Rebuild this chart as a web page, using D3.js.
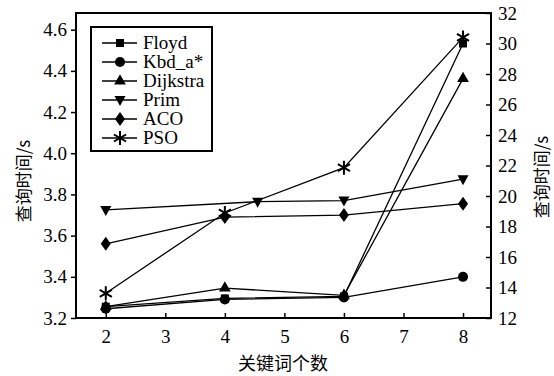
<!DOCTYPE html>
<html lang="zh">
<head>
<meta charset="utf-8">
<title>查询时间</title>
<script src="https://cdn.jsdelivr.net/npm/d3@7"></script>
<style>
  body { margin: 0; background: #fff; }
</style>
</head>
<body>
<svg id="chart" width="554" height="376"></svg>
<script>
// data: x = keyword count; last point of every series is read on the right axis
var xs = [2, 4, 6, 8];
var primXs = [2, 4.55, 6, 8];
var names = ["Floyd", "Kbd_a*", "Dijkstra", "Prim", "ACO", "PSO"];
var floyd    = [3.255, 3.295, 3.305, 30.0];
var kbd      = [3.245, 3.29, 3.30, 14.7];
var dijkstra = [3.255, 3.345, 3.31, 27.7];
var prim     = [3.725, 3.765, 3.77, 21.1];
var aco      = [3.56, 3.69, 3.70, 19.5];
var pso      = [3.32, 3.71, 3.93, 30.4];
var xTicks = [2, 3, 4, 5, 6, 7, 8];
var leftTicks = [3.2, 3.4, 3.6, 3.8, 4.0, 4.2, 4.4, 4.6];
var rightTicks = [12, 14, 16, 18, 20, 22, 24, 26, 28, 30, 32];

var SERIF = "Liberation Serif";
var CJK = "Noto Sans CJK SC";

var svg = d3.select("#chart");
var L = 76, R = 491, T = 13, B = 318;

var x = d3.scaleLinear().domain([1.5, 8.47]).range([L, R]);
var yL = d3.scaleLinear().domain([3.2, 4.681]).range([B, T]);
var yR = d3.scaleLinear().domain([12, 32]).range([B, T]);

// axes
var gx = svg.append("g").attr("transform", "translate(0," + B + ")")
  .call(d3.axisBottom(x).tickValues(xTicks).tickFormat(d3.format("d")).tickSizeInner(-5).tickSizeOuter(0).tickPadding(12));
var gl = svg.append("g").attr("transform", "translate(" + L + ",0)")
  .call(d3.axisLeft(yL).tickValues(leftTicks).tickFormat(d3.format(".1f")).tickSizeInner(5).tickSizeOuter(0).tickPadding(4));
var gr = svg.append("g").attr("transform", "translate(" + R + ",0)")
  .call(d3.axisRight(yR).tickValues(rightTicks).tickSizeInner(-5).tickSizeOuter(0).tickPadding(7));
[gx, gl, gr].forEach(function(g) {
  g.attr("font-family", null).attr("font-size", null);
  g.select(".domain").remove();
  g.selectAll("line").attr("stroke", "#000").attr("stroke-width", 1.5);
  g.selectAll("text").attr("fill", "#000")
    .style("font-family", SERIF).style("font-size", "19px");
});

svg.append("rect").attr("x", L).attr("y", T).attr("width", R - L).attr("height", B - T)
  .attr("fill", "none").attr("stroke", "#000").attr("stroke-width", 2);

// axis titles
svg.append("text").attr("transform", "translate(30,181) rotate(-90)")
  .attr("text-anchor", "middle").style("font-family", CJK).style("font-size", "17px").text("查询时间/s");
svg.append("text").attr("transform", "translate(548,177) rotate(-90)")
  .attr("text-anchor", "middle").style("font-family", CJK).style("font-size", "17px").text("查询时间/s");
svg.append("text").attr("x", 283).attr("y", 370)
  .attr("text-anchor", "middle").style("font-family", CJK).style("font-size", "18px").text("关键词个数");

// markers
function star(s) {
  var p = "";
  [90, 30, -30].forEach(function(a) {
    var r = a * Math.PI / 180, dx = Math.cos(r) * s, dy = Math.sin(r) * s;
    p += "M" + (-dx) + "," + (-dy) + "L" + dx + "," + dy;
  });
  return p;
}
var markers = [
  d3.symbol(d3.symbolSquare, 64)(),
  d3.symbol(d3.symbolCircle, 80)(),
  d3.symbol(d3.symbolTriangle, 60)(),
  "M-5.5,-4L5.5,-4L0,6Z",
  "M0,-7L5,0L0,7L-5,0Z",
  star(7)
];

var series = [floyd, kbd, dijkstra, prim, aco, pso];
series.forEach(function(vals, s) {
  var xv = s === 3 ? primXs : xs;
  var pts = vals.map(function(v, i) {
    return [x(xv[i]), i === 3 ? yR(v) : yL(v)];
  });
  svg.append("path").attr("d", d3.line()(pts))
    .attr("fill", "none").attr("stroke", "#000").attr("stroke-width", 1.3);
  svg.selectAll(null).data(pts).enter().append("path")
    .attr("d", markers[s])
    .attr("transform", function(p) { return "translate(" + p[0] + "," + p[1] + ")"; })
    .attr("fill", s === 5 ? "none" : "#000")
    .attr("stroke", "#000").attr("stroke-width", s === 5 ? 2 : 0);
});

// legend
var lg = svg.append("g");
lg.append("rect").attr("x", 91).attr("y", 27).attr("width", 121).attr("height", 124)
  .attr("fill", "#fff").attr("stroke", "#000").attr("stroke-width", 2);
names.forEach(function(n, i) {
  var yy = 43 + i * 19;
  lg.append("line").attr("x1", 102).attr("x2", 137).attr("y1", yy).attr("y2", yy)
    .attr("stroke", "#000").attr("stroke-width", 1.3);
  lg.append("path").attr("d", markers[i]).attr("transform", "translate(120," + yy + ")")
    .attr("fill", i === 5 ? "none" : "#000").attr("stroke", "#000").attr("stroke-width", i === 5 ? 2 : 0);
  lg.append("text").attr("x", 143).attr("y", yy + 6)
    .style("font-family", SERIF).style("font-size", "19px").text(n);
});
</script>
</body>
</html>
